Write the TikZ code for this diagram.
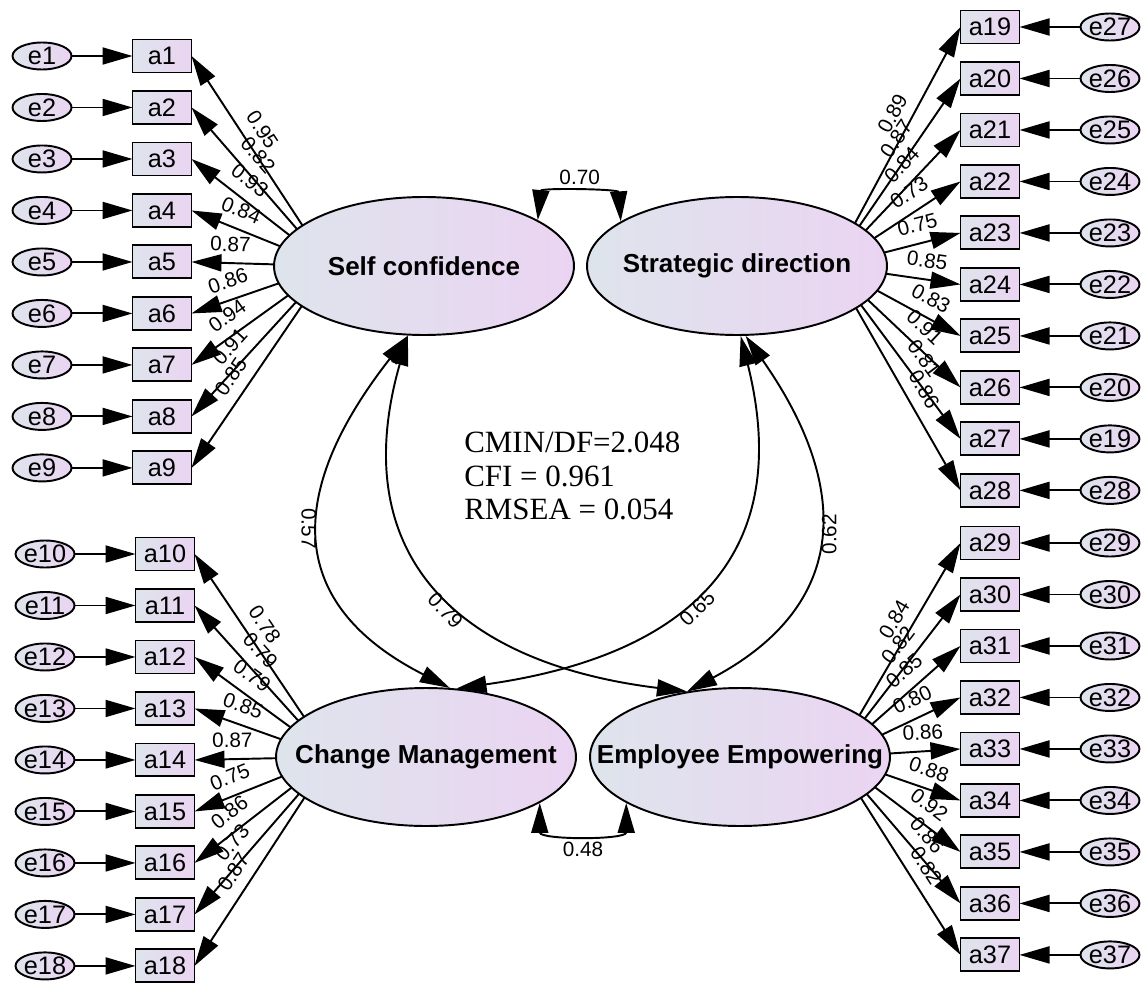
\documentclass[tikz,border=0pt]{standalone}
\usepackage{fontspec}
\setmainfont{Liberation Sans}
\newfontfamily\fitfont{Liberation Serif}
\usetikzlibrary{arrows.meta, positioning, shapes.geometric, backgrounds}
\definecolor{shadeL}{RGB}{222,228,236}
\definecolor{shadeR}{RGB}{235,212,242}
\tikzset{
  latent/.style={ellipse, draw, line width=1.1pt, left color=shadeL, right color=shadeR, minimum width=6cm, minimum height=2.76cm, inner xsep=-1cm, inner ysep=0pt, font=\fontsize{14.8}{17}\selectfont\bfseries},
  ind/.style={rectangle, draw, line width=1.1pt, left color=shadeL, right color=shadeR, minimum width=1.18cm, minimum height=0.66cm, inner sep=0pt, outer sep=0pt, font=\fontsize{14.4}{16}\selectfont},
  err/.style={ellipse, draw, line width=1.1pt, left color=shadeL, right color=shadeR, minimum width=1.18cm, minimum height=0.54cm, inner xsep=-0.1cm, inner ysep=-0.1cm, outer sep=0pt, font=\fontsize{14.4}{16}\selectfont},
  line/.style={-{Triangle[length=0.6cm, width=0.34cm]}, line width=1.1pt},
  cov/.style={{Triangle[length=0.6cm, width=0.34cm]}-{Triangle[length=0.6cm, width=0.34cm]}, line width=1.1pt},
  lab/.style={font=\fontsize{11.8}{14}\selectfont, inner sep=0pt},
  fitnote/.style={align=left, inner sep=0pt, font=\fitfont\fontsize{17.6}{19}\selectfont}
}
\begin{document}
\begin{tikzpicture}[x=0.02cm, y=-0.02cm, node distance=0.37cm and 1.22cm]

    \useasboundingbox (0,0) rectangle (1142,983);

    \node[latent] (sc) at (424,266) {Self confidence};
    \node[latent] (sd) at (737,266) {Strategic direction};
    \node[latent] (cm) at (426,757) {Change Management};
    \node[latent] (ee) at (740,757) {Employee Empowering};

    \coordinate[left=1.9cm of sc.center] (scF);
    \coordinate[right=1.9cm of sd.center] (sdF);
    \coordinate[left=1.9cm of cm.center] (cmF);
    \coordinate[right=1.9cm of ee.center] (eeF);

    \node[ind] (a1) at (162,56) {a1};
    \node[ind, below=of a1] (a2) {a2};
    \node[ind, below=of a2] (a3) {a3};
    \node[ind, below=of a3] (a4) {a4};
    \node[ind, below=of a4] (a5) {a5};
    \node[ind, below=of a5] (a6) {a6};
    \node[ind, below=of a6] (a7) {a7};
    \node[ind, below=of a7] (a8) {a8};
    \node[ind, below=of a8] (a9) {a9};
    \node[err, left=of a1] (e1) {e1};
    \node[err, left=of a2] (e2) {e2};
    \node[err, left=of a3] (e3) {e3};
    \node[err, left=of a4] (e4) {e4};
    \node[err, left=of a5] (e5) {e5};
    \node[err, left=of a6] (e6) {e6};
    \node[err, left=of a7] (e7) {e7};
    \node[err, left=of a8] (e8) {e8};
    \node[err, left=of a9] (e9) {e9};

    \node[ind] (a10) at (165,554) {a10};
    \node[ind, below=of a10] (a11) {a11};
    \node[ind, below=of a11] (a12) {a12};
    \node[ind, below=of a12] (a13) {a13};
    \node[ind, below=of a13] (a14) {a14};
    \node[ind, below=of a14] (a15) {a15};
    \node[ind, below=of a15] (a16) {a16};
    \node[ind, below=of a16] (a17) {a17};
    \node[ind, below=of a17] (a18) {a18};
    \node[err, left=of a10] (e10) {e10};
    \node[err, left=of a11] (e11) {e11};
    \node[err, left=of a12] (e12) {e12};
    \node[err, left=of a13] (e13) {e13};
    \node[err, left=of a14] (e14) {e14};
    \node[err, left=of a15] (e15) {e15};
    \node[err, left=of a16] (e16) {e16};
    \node[err, left=of a17] (e17) {e17};
    \node[err, left=of a18] (e18) {e18};

    \node[ind] (a19) at (990,27) {a19};
    \node[ind, below=of a19] (a20) {a20};
    \node[ind, below=of a20] (a21) {a21};
    \node[ind, below=of a21] (a22) {a22};
    \node[ind, below=of a22] (a23) {a23};
    \node[ind, below=of a23] (a24) {a24};
    \node[ind, below=of a24] (a25) {a25};
    \node[ind, below=of a25] (a26) {a26};
    \node[ind, below=of a26] (a27) {a27};
    \node[ind, below=of a27] (a28) {a28};
    \node[err, right=of a19] (e27) {e27};
    \node[err, right=of a20] (e26) {e26};
    \node[err, right=of a21] (e25) {e25};
    \node[err, right=of a22] (e24) {e24};
    \node[err, right=of a23] (e23) {e23};
    \node[err, right=of a24] (e22) {e22};
    \node[err, right=of a25] (e21) {e21};
    \node[err, right=of a26] (e20) {e20};
    \node[err, right=of a27] (e19) {e19};
    \node[err, right=of a28] (e28) {e28};

    \node[ind] (a29) at (990,543) {a29};
    \node[ind, below=of a29] (a30) {a30};
    \node[ind, below=of a30] (a31) {a31};
    \node[ind, below=of a31] (a32) {a32};
    \node[ind, below=of a32] (a33) {a33};
    \node[ind, below=of a33] (a34) {a34};
    \node[ind, below=of a34] (a35) {a35};
    \node[ind, below=of a35] (a36) {a36};
    \node[ind, below=of a36] (a37) {a37};
    \node[err, right=of a29] (e29) {e29};
    \node[err, right=of a30] (e30) {e30};
    \node[err, right=of a31] (e31) {e31};
    \node[err, right=of a32] (e32) {e32};
    \node[err, right=of a33] (e33) {e33};
    \node[err, right=of a34] (e34) {e34};
    \node[err, right=of a35] (e35) {e35};
    \node[err, right=of a36] (e36) {e36};
    \node[err, right=of a37] (e37) {e37};

    \node[fitnote, anchor=north west] (fitidx) at (464,432) {CMIN/DF=2.048\\CFI = 0.961\\RMSEA = 0.054};

    \draw[line] (e1) -- (a1);
    \draw[line] (e2) -- (a2);
    \draw[line] (e3) -- (a3);
    \draw[line] (e4) -- (a4);
    \draw[line] (e5) -- (a5);
    \draw[line] (e6) -- (a6);
    \draw[line] (e7) -- (a7);
    \draw[line] (e8) -- (a8);
    \draw[line] (e9) -- (a9);
    \draw[line] (e10) -- (a10);
    \draw[line] (e11) -- (a11);
    \draw[line] (e12) -- (a12);
    \draw[line] (e13) -- (a13);
    \draw[line] (e14) -- (a14);
    \draw[line] (e15) -- (a15);
    \draw[line] (e16) -- (a16);
    \draw[line] (e17) -- (a17);
    \draw[line] (e18) -- (a18);
    \draw[line] (e27) -- (a19);
    \draw[line] (e26) -- (a20);
    \draw[line] (e25) -- (a21);
    \draw[line] (e24) -- (a22);
    \draw[line] (e23) -- (a23);
    \draw[line] (e22) -- (a24);
    \draw[line] (e21) -- (a25);
    \draw[line] (e20) -- (a26);
    \draw[line] (e19) -- (a27);
    \draw[line] (e28) -- (a28);
    \draw[line] (e29) -- (a29);
    \draw[line] (e30) -- (a30);
    \draw[line] (e31) -- (a31);
    \draw[line] (e32) -- (a32);
    \draw[line] (e33) -- (a33);
    \draw[line] (e34) -- (a34);
    \draw[line] (e35) -- (a35);
    \draw[line] (e36) -- (a36);
    \draw[line] (e37) -- (a37);

    \begin{pgfonlayer}{background}
    \fill[white] (0,0) rectangle (1142,983);
    \draw[line] (scF) -- node[lab, sloped, above=6pt, pos=.60] {0.95} (a1.east);
    \draw[line] (scF) -- node[lab, sloped, above=6pt, pos=.62] {0.82} (a2.east);
    \draw[line] (scF) -- node[lab, sloped, above=6pt, pos=.66] {0.93} (a3.east);
    \draw[line] (scF) -- node[lab, sloped, above=6pt, pos=.69] {0.84} (a4.east);
    \draw[line] (scF) -- node[lab, sloped, above=6pt, pos=.72] {0.87} (a5.east);
    \draw[line] (scF) -- node[lab, sloped, above=6pt, pos=.69] {0.86} (a6.east);
    \draw[line] (scF) -- node[lab, sloped, above=6pt, pos=.66] {0.94} (a7.east);
    \draw[line] (scF) -- node[lab, sloped, above=6pt, pos=.62] {0.91} (a8.east);
    \draw[line] (scF) -- node[lab, sloped, above=6pt, pos=.60] {0.85} (a9.east);

    \draw[line] (cmF) -- node[lab, sloped, above=6pt, pos=.60] {0.78} (a10.east);
    \draw[line] (cmF) -- node[lab, sloped, above=6pt, pos=.62] {0.79} (a11.east);
    \draw[line] (cmF) -- node[lab, sloped, above=6pt, pos=.66] {0.79} (a12.east);
    \draw[line] (cmF) -- node[lab, sloped, above=6pt, pos=.69] {0.85} (a13.east);
    \draw[line] (cmF) -- node[lab, sloped, above=6pt, pos=.72] {0.87} (a14.east);
    \draw[line] (cmF) -- node[lab, sloped, above=6pt, pos=.69] {0.75} (a15.east);
    \draw[line] (cmF) -- node[lab, sloped, above=6pt, pos=.66] {0.86} (a16.east);
    \draw[line] (cmF) -- node[lab, sloped, above=6pt, pos=.62] {0.73} (a17.east);
    \draw[line] (cmF) -- node[lab, sloped, above=6pt, pos=.60] {0.87} (a18.east);

    \draw[line] (sdF) -- node[lab, sloped, above=6pt, pos=.60] {0.89} (a19.west);
    \draw[line] (sdF) -- node[lab, sloped, above=6pt, pos=.62] {0.87} (a20.west);
    \draw[line] (sdF) -- node[lab, sloped, above=6pt, pos=.65] {0.84} (a21.west);
    \draw[line] (sdF) -- node[lab, sloped, above=6pt, pos=.68] {0.73} (a22.west);
    \draw[line] (sdF) -- node[lab, sloped, above=6pt, pos=.70] {0.75} (a23.west);
    \draw[line] (sdF) -- node[lab, sloped, above=6pt, pos=.72] {0.85} (a24.west);
    \draw[line] (sdF) -- node[lab, sloped, above=6pt, pos=.70] {0.83} (a25.west);
    \draw[line] (sdF) -- node[lab, sloped, above=6pt, pos=.62] {0.91} (a26.west);
    \draw[line] (sdF) -- node[lab, sloped, above=6pt, pos=.60] {0.81} (a27.west);
    \draw[line] (sdF) -- node[lab, sloped, above=6pt, pos=.59] {0.86} (a28.west);

    \draw[line] (eeF) -- node[lab, sloped, above=6pt, pos=.60] {0.84} (a29.west);
    \draw[line] (eeF) -- node[lab, sloped, above=6pt, pos=.62] {0.82} (a30.west);
    \draw[line] (eeF) -- node[lab, sloped, above=6pt, pos=.65] {0.85} (a31.west);
    \draw[line] (eeF) -- node[lab, sloped, above=6pt, pos=.68] {0.80} (a32.west);
    \draw[line] (eeF) -- node[lab, sloped, above=6pt, pos=.71] {0.86} (a33.west);
    \draw[line] (eeF) -- node[lab, sloped, above=6pt, pos=.70] {0.88} (a34.west);
    \draw[line] (eeF) -- node[lab, sloped, above=6pt, pos=.66] {0.92} (a35.west);
    \draw[line] (eeF) -- node[lab, sloped, above=6pt, pos=.62] {0.86} (a36.west);
    \draw[line] (eeF) -- node[lab, sloped, above=6pt, pos=.60] {0.82} (a37.west);
    \end{pgfonlayer}

    \draw[cov] (sc.22) to[bend left=85] node[lab, above=6pt] {0.70} (sd.159);
    \draw[cov] (cm.-22) to[bend right=90, looseness=1.1] node[lab, below=6pt] {0.48} (ee.-158);

    \draw[cov] (sc.-103) to[out=-128, in=153, looseness=1.38] node[lab, rotate=-90, anchor=north, inner sep=2pt, pos=.48] {0.57} (cm.71);
    \draw[cov] (sc.-103) to[out=-106, in=173, looseness=1.3] node[lab, rotate=-47, anchor=north, inner sep=2pt, pos=.55] {0.79} (ee.129);
    \draw[cov] (sd.-87) to[out=-76, in=8, looseness=1.3] node[lab, rotate=45, anchor=north, inner sep=2pt, pos=.55] {0.65} (cm.66);
    \draw[cov] (sd.-83) to[out=-55, in=28, looseness=1.31] node[lab, rotate=90, anchor=north, inner sep=2pt, pos=.49] {0.62} (ee.129);

\end{tikzpicture}
\end{document}
